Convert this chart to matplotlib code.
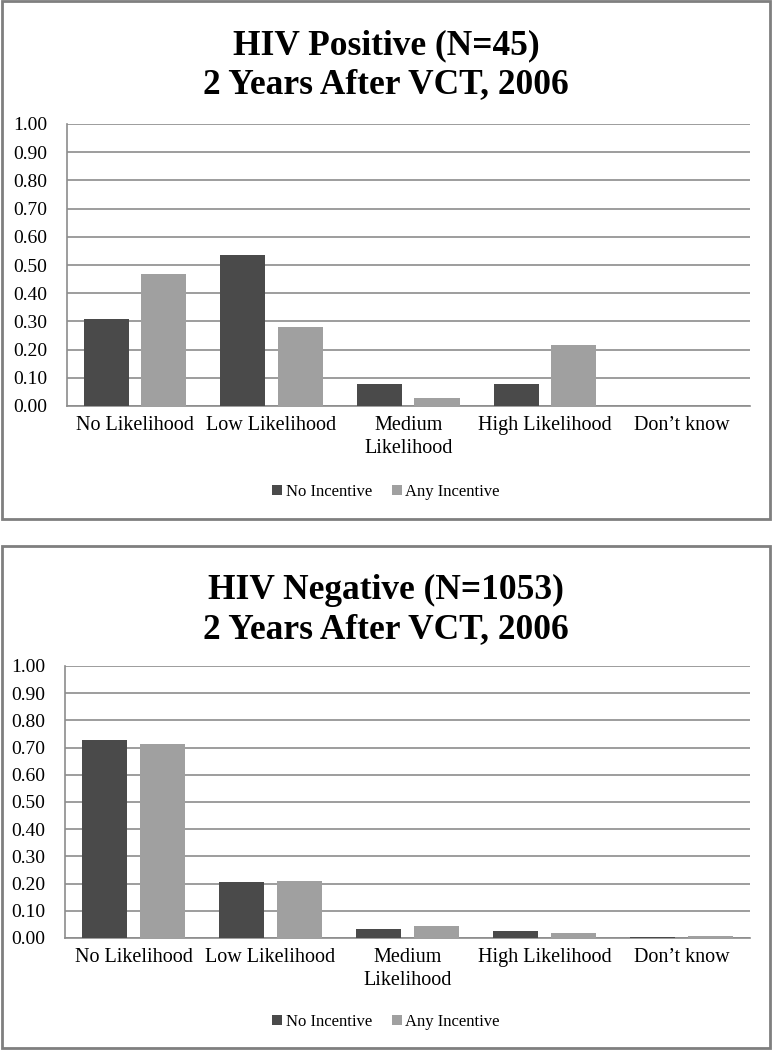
import matplotlib
matplotlib.use("Agg")
import matplotlib.pyplot as plt
from matplotlib.patches import Rectangle
from matplotlib.ticker import FormatStrFormatter, MultipleLocator
import numpy as np

categories = ["No Likelihood", "Low Likelihood", "Medium\nLikelihood", "High Likelihood", "Don\u2019t know"]
series_names = ["No Incentive", "Any Incentive"]
pos_no_incentive = [0.307, 0.535, 0.077, 0.077, 0.0]
pos_any_incentive = [0.468, 0.281, 0.029, 0.216, 0.0]
neg_no_incentive = [0.727, 0.206, 0.033, 0.025, 0.004]
neg_any_incentive = [0.713, 0.210, 0.044, 0.019, 0.007]
titles = ["HIV Positive (N=45)\n2 Years After VCT, 2006",
          "HIV Negative (N=1053)\n2 Years After VCT, 2006"]

DARK = "#4a4a4a"
LIGHT = "#a0a0a0"
GRID = "#8c8c8c"
FONT = "Liberation Serif"

W, H = 772, 1050
fig = plt.figure(figsize=(W / 100, H / 100), dpi=100)
fig.patch.set_facecolor("white")

def fx(px):
    return px / W

def fy(py):
    return 1 - py / H

def panel(box, axbox, title_y, legend_y, no_vals, any_vals, title):
    x0, y0, x1, y1 = box
    fig.patches.append(Rectangle((fx(x0), fy(y1)), fx(x1 - x0), (y1 - y0) / H,
                                 transform=fig.transFigure, fill=False,
                                 edgecolor="#7f7f7f", linewidth=2))
    l, t, r, b = axbox
    ax = fig.add_axes([fx(l), fy(b), fx(r - l), (b - t) / H])
    x = np.arange(len(categories))
    w = 0.33
    off = 0.21
    b1 = ax.bar(x - off, no_vals, w, color=DARK, label=series_names[0], zorder=3)
    b2 = ax.bar(x + off, any_vals, w, color=LIGHT, label=series_names[1], zorder=3)
    ax.set_xlim(-0.5, len(categories) - 0.5)
    ax.set_ylim(0, 1.0)
    ax.yaxis.set_major_locator(MultipleLocator(0.1))
    ax.yaxis.set_major_formatter(FormatStrFormatter("%.2f"))
    ax.grid(axis="y", color=GRID, linewidth=1.2, zorder=0)
    ax.set_axisbelow(True)
    for s in ["top", "right"]:
        ax.spines[s].set_visible(False)
    ax.spines["left"].set_color(GRID)
    ax.spines["bottom"].set_color(GRID)
    ax.spines["left"].set_linewidth(1.2)
    ax.spines["bottom"].set_linewidth(1.2)
    ax.set_xticks(x)
    ax.set_xticklabels(categories, fontfamily=FONT, fontsize=14.5, linespacing=1.3)
    ax.tick_params(axis="x", length=0, pad=7)
    ax.tick_params(axis="y", length=0, pad=14, labelsize=14)
    for lab in ax.get_yticklabels():
        lab.set_fontfamily(FONT)
    fig.text(fx((x0 + x1) / 2), fy(title_y), title, ha="center", va="center",
             fontfamily=FONT, fontweight="bold", fontsize=25.5, linespacing=1.25)
    fig.legend(handles=[b1, b2], loc="center", bbox_to_anchor=(fx(386), fy(legend_y)),
               ncol=2, frameon=False, prop={"family": FONT, "size": 12},
               handlelength=0.6, handleheight=0.6, handletextpad=0.2, columnspacing=1.2)
    return ax

panel((2, 1, 770, 519), (66.5, 124, 750, 406), 65, 492,
      pos_no_incentive, pos_any_incentive, titles[0])
panel((2, 546, 770, 1048), (65, 666, 750, 938), 610, 1022,
      neg_no_incentive, neg_any_incentive, titles[1])

fig.savefig("out.png", dpi=100, facecolor="white")
